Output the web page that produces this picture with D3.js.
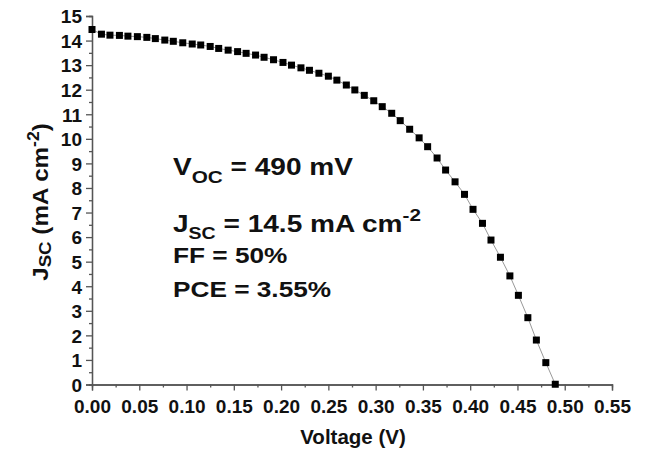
<!DOCTYPE html>
<html>
<head>
<meta charset="utf-8">
<script src="https://cdn.jsdelivr.net/npm/d3@7"></script>
<style>
  body { margin: 0; background: #fff; }
  svg { display: block; font-family: "Liberation Sans", Arial, sans-serif; font-weight: bold; }
</style>
</head>
<body>
<script>
const canvasWidth = 645,
  canvasHeight = 453;

// J-V curve
const voltage = [
  0, 0.010, 0.019, 0.029, 0.038, 0.048, 0.058, 0.067, 0.077, 0.086,
  0.096, 0.106, 0.115, 0.125, 0.134, 0.144, 0.154, 0.163, 0.173, 0.182,
  0.192, 0.202, 0.211, 0.221, 0.230, 0.240, 0.250, 0.259, 0.269, 0.278,
  0.288, 0.298, 0.307, 0.317, 0.326, 0.336, 0.346, 0.355, 0.365, 0.374,
  0.384, 0.394, 0.403, 0.413, 0.422, 0.432, 0.442, 0.451, 0.461, 0.470,
  0.480, 0.490
];
const currentDensity = [
  14.45, 14.26, 14.22, 14.21, 14.18, 14.16, 14.13, 14.08, 14.02, 13.97,
  13.91, 13.86, 13.82, 13.76, 13.68, 13.61, 13.55, 13.48, 13.41, 13.32,
  13.22, 13.11, 13.00, 12.89, 12.79, 12.67, 12.55, 12.39, 12.19, 11.99,
  11.77, 11.55, 11.31, 11.04, 10.74, 10.39, 10.04, 9.68, 9.22, 8.73,
  8.25, 7.74, 7.13, 6.56, 5.88, 5.18, 4.42, 3.63, 2.72, 1.81,
  0.89, 0.01
];

const xTicks = [0, 0.05, 0.1, 0.15, 0.2, 0.25, 0.3, 0.35, 0.4, 0.45, 0.5, 0.55];
const xMinorTicks = [0.025, 0.075, 0.125, 0.175, 0.225, 0.275, 0.325, 0.375, 0.425, 0.475, 0.525];
const yTicks = [0, 1, 2, 3, 4, 5, 6, 7, 8, 9, 10, 11, 12, 13, 14, 15];
const yMinorTicks = [0.5, 1.5, 2.5, 3.5, 4.5, 5.5, 6.5, 7.5, 8.5, 9.5, 10.5, 11.5, 12.5, 13.5, 14.5];

const points = voltage.map((v, i) => ({ v: v, j: currentDensity[i] }));

const x = d3.scaleLinear().domain([0, 0.55]).range([92, 612]);
const y = d3.scaleLinear().domain([0, 15]).range([384.5, 16]);

const svg = d3
  .select("body")
  .append("svg")
  .attr("width", canvasWidth)
  .attr("height", canvasHeight);

const axisColor = "#555";

function styleAxis(g) {
  g.select(".domain").attr("stroke", axisColor).attr("stroke-width", 1.3);
  g.selectAll(".tick line").attr("stroke", axisColor).attr("stroke-width", 1.3);
  g.selectAll(".tick text")
    .attr("fill", "#111")
    .attr("font-size", 19)
    .attr("font-weight", "bold")
    .attr("font-family", "Liberation Sans, Arial, sans-serif");
}

// minor ticks first, majors drawn on top
svg
  .append("g")
  .attr("transform", "translate(0," + y(0) + ")")
  .call(d3.axisBottom(x).tickValues(xMinorTicks).tickSize(3).tickFormat(""))
  .call(styleAxis);
svg
  .append("g")
  .attr("transform", "translate(" + x(0) + ",0)")
  .call(d3.axisLeft(y).tickValues(yMinorTicks).tickSize(3).tickFormat(""))
  .call(styleAxis);

svg
  .append("g")
  .attr("transform", "translate(0," + y(0) + ")")
  .call(
    d3
      .axisBottom(x)
      .tickValues(xTicks)
      .tickSize(6)
      .tickPadding(8)
      .tickFormat(d3.format(".2f"))
  )
  .call(styleAxis)
  .call(g => g.selectAll(".tick text").attr("dy", "0.78em"));

svg
  .append("g")
  .attr("transform", "translate(" + x(0) + ",0)")
  .call(d3.axisLeft(y).tickValues(yTicks).tickSize(6).tickPadding(4))
  .call(styleAxis)
  .call(g => g.selectAll(".tick text").attr("dy", "0.36em"));

// thin connecting line
svg
  .append("path")
  .datum(points)
  .attr("fill", "none")
  .attr("stroke", "#999")
  .attr("stroke-width", 1)
  .attr("d", d3.line().x(d => x(d.v)).y(d => y(d.j)));

const sq = 7;
svg
  .selectAll("rect.pt")
  .data(points)
  .enter()
  .append("rect")
  .classed("pt", true)
  .attr("x", d => x(d.v) - sq / 2)
  .attr("y", d => y(d.j) - sq / 2)
  .attr("width", sq)
  .attr("height", sq)
  .attr("fill", "#000");

// axis titles
svg
  .append("text")
  .attr("x", 353)
  .attr("y", 444)
  .attr("text-anchor", "middle")
  .attr("font-size", 20.5)
  .attr("fill", "#111")
  .text("Voltage (V)");

const yTitle = svg
  .append("g")
  .attr("transform", "translate(48,202) rotate(-90) scale(1.1,1)")
  .append("text")
  .attr("text-anchor", "middle")
  .attr("fill", "#111")
  .attr("font-size", 22);
yTitle.append("tspan").text("J");
yTitle.append("tspan").attr("font-size", 17).attr("dy", 3).text("SC");
yTitle.append("tspan").attr("dy", -3).text(" (mA cm");
yTitle.append("tspan").attr("font-size", 16).attr("dy", -9).text("-2");
yTitle.append("tspan").attr("dy", 9).text(")");

// parameter annotations
const notes = svg
  .append("g")
  .attr("transform", "translate(173,0) scale(1.22,1)")
  .attr("fill", "#111");

const voc = notes.append("text").attr("y", 175).attr("font-size", 23);
voc.append("tspan").text("V");
voc.append("tspan").attr("font-size", 17).attr("dy", 8).text("OC");
voc.append("tspan").attr("dy", -8).text(" = 490 mV");

const jsc = notes.append("text").attr("y", 232.5).attr("font-size", 23);
jsc.append("tspan").text("J");
jsc.append("tspan").attr("font-size", 16).attr("dy", 7).text("SC");
jsc.append("tspan").attr("dy", -7).text(" = 14.5 mA cm");
jsc.append("tspan").attr("font-size", 17).attr("dy", -11).text("-2");

notes.append("text").attr("y", 263).attr("font-size", 21.5).text("FF = 50%");
notes.append("text").attr("y", 297).attr("font-size", 21.5).text("PCE = 3.55%");
</script>
</body>
</html>
